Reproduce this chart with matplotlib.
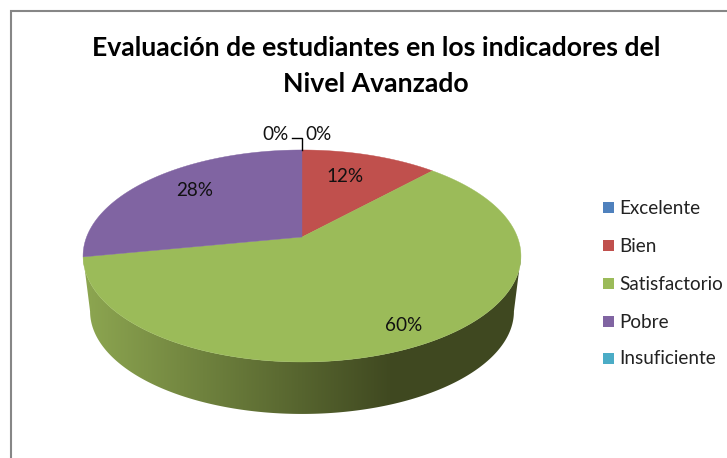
import numpy as np
import matplotlib
matplotlib.use("Agg")
import matplotlib.pyplot as plt
from matplotlib.patches import Polygon, Rectangle

# Data
categories = ['Excelente', 'Bien', 'Satisfactorio', 'Pobre', 'Insuficiente']
values = [0, 12, 60, 28, 0]
colors = ['#4F81BD', '#C0504D', '#9BBB59', '#8064A2', '#4BACC6']
title_lines = ['Evaluación de estudiantes en los indicadores del', 'Nivel Avanzado']

label_pos = [(275.5, 134.5), (345, 176), (404, 325.5), (194.5, 191), (319, 134.5)]
legend_y = [207, 245, 283, 321, 358]

plt.rcParams['font.family'] = ['Lato', 'DejaVu Sans']

fig = plt.figure(figsize=(7.27, 4.58), dpi=100)
ax = fig.add_axes([0, 0, 1, 1])
ax.set_xlim(0, 727)
ax.set_ylim(458, 0)
ax.axis('off')

# pie tilted in perspective, angle measured clockwise from the top
P = 0.179


def rim(theta, x0=302, y0=237, a=215.4, b=102.6):
    u, v = np.sin(theta), np.cos(theta)
    w = 1 + P * v
    return x0 + a * u / w, y0 - b * v / w


# side wall, only the front is visible
t_side = np.radians(np.linspace(100.3, 259.7, 200))
xt, yt = rim(t_side)
xb, yb = rim(t_side[::-1], x0=302, y0=293, a=208.5, b=99.3)
side = Polygon(np.column_stack([np.r_[xt, xb], np.r_[yt, yb]]), closed=True, fc='none', ec='none')
ax.add_patch(side)

left_c = np.array([140, 165, 80]) / 255
dark_c = np.array([63, 72, 32]) / 255
xs = np.arange(80, 525)
f = np.clip((xs - 88) / (393 - 88), 0, 1)[None, :, None]
grad = left_c[None, None, :] * (1 - f) + dark_c[None, None, :] * f
im = ax.imshow(grad, extent=(80, 525, 420, 240), aspect='auto', zorder=1)
im.set_clip_path(side)
ax.set_xlim(0, 727)
ax.set_ylim(458, 0)

# top of the pie
start = 0
for val, col in zip(values, colors):
    if val > 0:
        th = np.radians(np.linspace(start, start + val, 200) * 3.6)
        x, y = rim(th)
        pts = np.column_stack([np.r_[302, x], np.r_[237, y]])
        ax.add_patch(Polygon(pts, closed=True, fc=col, ec=col, lw=0.3, zorder=2))
    start += val

# labels
for val, (lx, ly) in zip(values, label_pos):
    ax.text(lx, ly, f'{val}%', ha='center', va='center', fontsize=13.6, color='#111111', zorder=4)

# leader line of the two zero slices
ax.plot([301.5, 301.5, 292], [150, 138, 138], color='black', lw=1, zorder=3, solid_joinstyle='miter')

# title
ax.text(376, 48, title_lines[0], ha='center', va='center', fontsize=19.15, fontweight='bold', color='black')
ax.text(376, 84, title_lines[1], ha='center', va='center', fontsize=19.15, fontweight='bold', color='black')

# legend
for name, col, ly in zip(categories, colors, legend_y):
    ax.add_patch(Rectangle((603, ly - 5.5), 11, 11, fc=col, ec='none'))
    ax.text(619, ly + 1, name, ha='left', va='center', fontsize=13.6, color='#222222')

# chart frame, runs off the picture at right and bottom
ax.plot([10.5, 10.5, 727], [458, 11, 11], color='#868686', lw=1.5, solid_joinstyle='miter', clip_on=False)

fig.savefig('out.png', dpi=100)
